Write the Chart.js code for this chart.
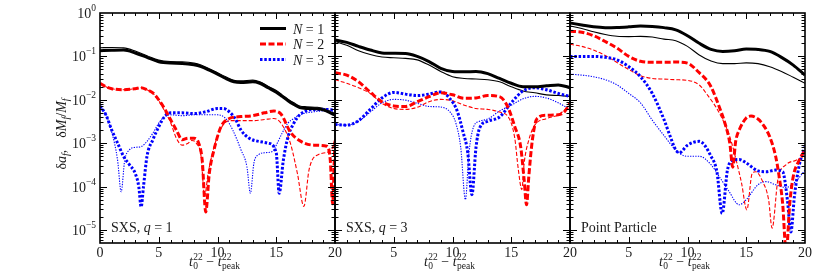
<!DOCTYPE html>
<html><head><meta charset="utf-8">
<script src="https://cdn.jsdelivr.net/npm/chart.js@4/dist/chart.umd.min.js"></script>
<style>
html,body{margin:0;padding:0;background:#fff;}
#wrap{position:relative;width:830px;height:277px;}
canvas{position:absolute;left:0;top:0;}
</style>
</head><body>
<div id="wrap">
<canvas id="c1" width="830" height="277"></canvas>
<canvas id="c2" width="830" height="277"></canvas>
<canvas id="c3" width="830" height="277"></canvas>
</div>
<script>
// ---------------- DATA ----------------
const xTicks = [0, 5, 10, 15, 20];
const yTickExps = [0, -1, -2, -3, -4, -5];
const legendLabels = ['1', '2', '3'];
const panelNotes = [['SXS, ', 'q', ' = 1'], ['SXS, ', 'q', ' = 3'], ['Point Particle', '', '']];

// Panel 1: SXS q=1
const q1_N1_thick = [[0,0.135],[1,0.138],[2,0.14],[3,0.12],[4,0.095],[5,0.075],[6,0.07],[7,0.069],[8,0.064],[8.6,0.058],[9.3,0.048],[10,0.039],[10.7,0.031],[11.4,0.026],[12,0.025],[13,0.026],[13.6,0.024],[14.3,0.019],[15,0.015],[15.5,0.012],[16,0.0095],[16.5,0.0078],[17,0.0066],[17.6,0.0063],[18.5,0.0062],[19.2,0.0056],[19.8,0.0047],[20,0.0045]];
const q1_N1_thin = [[0,0.158],[1,0.16],[2,0.157],[3,0.133],[4,0.104],[5,0.082],[6,0.076],[7,0.075],[8,0.07],[8.6,0.063],[9.3,0.052],[10,0.042],[10.7,0.034],[11.4,0.028],[12,0.0272],[13,0.0283],[13.6,0.026],[14.3,0.0205],[15,0.0163],[15.5,0.013],[16,0.0103],[16.5,0.0085],[17,0.0072],[17.6,0.0069],[18.5,0.0067],[19.2,0.0061],[19.8,0.0051],[20,0.0049]];
const q1_N2_thick = [[0,0.024],[0.5,0.02],[1,0.018],[2,0.017],[3,0.018],[3.5,0.019],[4,0.017],[4.5,0.0145],[5,0.01],[5.5,0.0062],[6,0.0035],[6.5,0.002],[7,0.0012],[7.5,0.0013],[8,0.0013],[8.4,0.001],[8.7,0.0004],[9.0,0.000026],[9.3,0.0002],[9.7,0.0007],[10.3,0.0024],[11,0.0037],[12,0.0041],[13,0.0043],[14,0.005],[14.8,0.0055],[15.4,0.0047],[16.2,0.0018],[17.1,0.0011],[18.2,0.0009],[19.3,0.00085],[19.6,0.0004],[19.8,0.00004],[19.95,0.0005],[20,0.0011]];
const q1_N2_thin = [[0,0.024],[0.5,0.02],[1,0.018],[2,0.017],[3,0.018],[3.5,0.019],[4,0.017],[4.5,0.014],[5,0.0095],[5.5,0.0055],[6,0.003],[6.5,0.0013],[7,0.0009],[7.5,0.001],[7.8,0.00115],[8.2,0.001],[8.6,0.0005],[8.9,0.00006],[9.2,0.0002],[9.7,0.0008],[10.3,0.0022],[11,0.0033],[12,0.0033],[13,0.0033],[14,0.0035],[14.8,0.0037],[15.4,0.0029],[16.2,0.001],[16.8,0.0002],[17.35,0.000035],[17.8,0.00025],[18.6,0.00055],[19.7,0.0007],[20,0.0013]];
const q1_N3_thick = [[0,0.0072],[0.5,0.0045],[1,0.002],[1.5,0.001],[2,0.0005],[2.5,0.00032],[3,0.0002],[3.3,0.0001],[3.5,0.000034],[3.7,0.0001],[4,0.0005],[4.5,0.0012],[5,0.0024],[5.5,0.0041],[6,0.005],[7,0.005],[8,0.0048],[9,0.0053],[10,0.0063],[10.5,0.0063],[11,0.0053],[11.5,0.0037],[12,0.002],[12.7,0.0013],[13.5,0.0011],[14.3,0.001],[15,0.0006],[15.25,0.00007],[15.6,0.0004],[16,0.0014],[16.5,0.0029],[17,0.0045],[17.5,0.0055],[18.2,0.006],[19,0.006],[20,0.0058]];
const q1_N3_thin = [[0,0.0072],[0.5,0.0045],[1,0.0018],[1.5,0.0004],[1.8,0.000076],[2.1,0.0004],[2.5,0.0007],[3,0.0008],[3.5,0.00083],[4,0.0011],[4.5,0.0017],[5,0.0029],[5.5,0.0041],[6,0.0045],[7,0.0043],[8,0.0045],[9,0.0045],[10,0.0045],[10.7,0.0037],[11.3,0.002],[12,0.0007],[12.5,0.00029],[12.8,0.00007],[13.1,0.00035],[13.5,0.00054],[14,0.0006],[14.7,0.00065],[15,0.0009],[15.5,0.0017],[16,0.0029],[16.5,0.0037],[17,0.0045],[18,0.0052],[19,0.0055],[20,0.0055]];

// Panel 2: SXS q=3
const q3_N1_thick = [[0,0.24],[1,0.21],[2,0.17],[3,0.14],[4,0.12],[5,0.118],[6,0.117],[7,0.1],[8,0.076],[9,0.053],[10,0.045],[11,0.044],[12,0.045],[13,0.04],[14,0.031],[15,0.024],[16,0.02],[17,0.02],[18,0.021],[19,0.022],[20,0.019]];
const q3_N1_thin = [[0,0.22],[1,0.18],[2,0.135],[3,0.11],[4,0.097],[5,0.093],[6,0.09],[7,0.083],[8,0.063],[9,0.045],[10,0.034],[11,0.031],[12,0.03],[13,0.029],[14,0.026],[15,0.02],[16,0.016],[17,0.0145],[18,0.013],[19,0.0125],[20,0.012]];
const q3_N2_thick = [[0,0.042],[1,0.037],[2,0.026],[3,0.015],[4,0.009],[5,0.0072],[6,0.007],[7,0.009],[8,0.0118],[9,0.0145],[10,0.013],[11,0.0108],[12,0.011],[13,0.0125],[14,0.0118],[14.7,0.0069],[15.3,0.0024],[15.8,0.00083],[16.1,0.00014],[16.3,0.000038],[16.5,0.00018],[16.8,0.0012],[17.2,0.0037],[18,0.0044],[19,0.0045],[19.5,0.0052],[20,0.0083]];
const q3_N2_thin = [[0,0.029],[1,0.024],[2,0.019],[3,0.014],[4,0.0083],[5,0.0063],[6,0.006],[7,0.0067],[8,0.009],[9,0.0102],[10,0.0095],[11,0.0075],[12,0.0063],[13,0.006],[14,0.0052],[14.8,0.0038],[15.3,0.0013],[15.6,0.00025],[15.9,0.000085],[16.1,0.00035],[16.5,0.0012],[17,0.0026],[18,0.0037],[19,0.0045],[20,0.0075]];
const q3_N3_thick = [[0,0.0027],[1,0.0026],[2,0.0033],[3,0.006],[4,0.011],[5,0.0148],[6,0.0135],[7,0.0125],[8,0.0135],[9,0.0152],[9.8,0.0105],[10.4,0.0055],[10.9,0.0018],[11.3,0.0006],[11.65,0.000065],[12,0.0008],[12.3,0.0022],[13,0.0032],[14,0.004],[15,0.0085],[16,0.016],[17,0.019],[18,0.017],[19,0.014],[20,0.012]];
const q3_N3_thin = [[0,0.0027],[1,0.0026],[2,0.0032],[3,0.0052],[4,0.0085],[5,0.0102],[6,0.0098],[7,0.0083],[8,0.007],[9,0.0068],[9.8,0.0052],[10.3,0.0028],[10.7,0.0008],[11.1,0.00005],[11.4,0.0006],[11.8,0.0024],[12.3,0.0032],[13,0.0036],[14,0.0055],[15,0.0075],[16,0.0105],[17,0.012],[18,0.011],[19,0.0085],[20,0.006]];

// Panel 3: Point Particle
const pp_N1_thick = [[0,0.59],[1,0.53],[2,0.48],[3,0.46],[4,0.465],[5,0.48],[6,0.5],[7,0.49],[8,0.46],[9,0.41],[10,0.3],[11,0.2],[12,0.145],[13,0.13],[14,0.135],[15,0.148],[16,0.145],[17,0.13],[18,0.095],[19,0.063],[20,0.037]];
const pp_N1_thin = [[0,0.5],[1,0.44],[2,0.37],[3,0.32],[4,0.29],[5,0.285],[6,0.29],[7,0.28],[8,0.25],[9,0.23],[10,0.17],[11,0.108],[12,0.078],[13,0.068],[14,0.068],[15,0.071],[16,0.068],[17,0.058],[18,0.045],[19,0.033],[20,0.024]];
const pp_N2_thick = [[0,0.38],[1,0.36],[2,0.3],[3,0.22],[4,0.155],[5,0.1],[6,0.077],[7,0.073],[8,0.073],[9,0.074],[10,0.07],[11,0.042],[11.6,0.029],[12,0.02],[12.7,0.0069],[13.2,0.0028],[13.6,0.001],[13.85,0.00028],[14.1,0.0011],[14.4,0.002],[15,0.0038],[15.4,0.0042],[16,0.0036],[16.5,0.0025],[17,0.0014],[17.5,0.0005],[17.8,0.00017],[18.1,0.00004],[18.4,0.000003],[18.7,0.00004],[19,0.00017],[19.5,0.0004],[20,0.0007]];
const pp_N2_thin = [[0,0.19],[1,0.17],[2,0.14],[3,0.105],[4,0.072],[5,0.05],[6,0.036],[7,0.031],[8,0.03],[9,0.029],[10,0.028],[11,0.022],[11.6,0.014],[12.7,0.005],[13.6,0.0014],[14.2,0.00035],[14.6,0.00012],[15.05,0.000029],[15.5,0.0002],[15.8,0.00022],[16.4,0.00013],[16.9,0.00005],[17.2,0.000011],[17.7,0.00015],[18.4,0.00032],[19.2,0.0004],[20,0.00049]];
const pp_N3_thick = [[0,0.1],[1,0.1],[2,0.1],[3,0.095],[4,0.083],[5,0.058],[6,0.034],[7,0.014],[8,0.0035],[8.5,0.0015],[9,0.0007],[9.3,0.0006],[10,0.0009],[11,0.0011],[12,0.0005],[12.5,0.00022],[12.95,0.000024],[13.4,0.00024],[13.85,0.0004],[14.4,0.00042],[15,0.00035],[16,0.00023],[16.7,0.00022],[17.5,0.00024],[18.1,0.00022],[18.5,0.00005],[18.8,0.000009],[19.1,0.00006],[19.5,0.0003],[20,0.00083]];
const pp_N3_thin = [[0,0.039],[1,0.037],[2,0.034],[3,0.029],[4,0.022],[5,0.014],[6,0.0085],[7,0.0034],[8,0.0015],[9,0.0007],[9.9,0.0005],[11,0.0005],[12,0.00032],[12.7,0.00017],[13.5,0.00008],[14.4,0.000038],[15,0.00005],[16,0.00011],[16.7,0.00013],[17.5,0.00011],[18.4,0.000095],[19.2,0.00013],[20,0.00024]];

// ---------------- STYLE / HELPERS ----------------
const SERIF = '"Liberation Serif", "DejaVu Serif", serif';
const TXT = '#1a1a1a';
function fnt(size, italic) { return (italic ? 'italic ' : '') + size + 'px ' + SERIF; }
function runW(ctx, r) {
  ctx.font = fnt(r.size, r.italic);
  if (r.stack) return Math.max(ctx.measureText(r.sup).width, ctx.measureText(r.sub).width);
  return ctx.measureText(r.text).width;
}
function drawRuns(ctx, runs, x, y, align) {
  const total = runs.reduce((s, r) => s + runW(ctx, r) + (r.gap || 0), 0);
  let cx = align === 'center' ? x - total / 2 : align === 'right' ? x - total : x;
  ctx.textAlign = 'left'; ctx.textBaseline = 'alphabetic'; ctx.fillStyle = TXT;
  for (const r of runs) {
    const w = runW(ctx, r);
    ctx.font = fnt(r.size, r.italic);
    if (r.stack) { ctx.fillText(r.sup, cx, y - r.up); ctx.fillText(r.sub, cx, y + r.down); }
    else ctx.fillText(r.text, cx, y + (r.dy || 0));
    cx += w + (r.gap || 0);
  }
}

const STY = {
  N1: { color: '#000000', dash: [] },
  N2: { color: '#ff0000', dashThick: [6, 2.5], dashThin: [4, 2] },
  N3: { color: '#0000ff', dashThick: [2.5, 1.8], dashThin: [1.3, 1.3] }
};
function ds(pairs, key, thick) {
  const s = STY[key];
  const dash = key === 'N1' ? [] : (thick ? s.dashThick : s.dashThin);
  return {
    data: pairs.map(([x, y]) => ({ x, y })),
    borderColor: s.color, backgroundColor: s.color,
    borderWidth: thick ? 3 : 1.1, borderDash: dash,
    borderCapStyle: 'butt', borderJoinStyle: 'round',
    pointRadius: 0, fill: false, cubicInterpolationMode: 'monotone'
  };
}

const decoPlugin = {
  id: 'deco',
  afterDraw(chart, args, o) {
    const { ctx, chartArea: a, scales: { x, y } } = chart;
    ctx.save();
    // ticks
    ctx.strokeStyle = '#000'; ctx.lineWidth = 1;
    ctx.beginPath();
    for (let t = 1; t < 20; t++) {
      const px = Math.round(x.getPixelForValue(t)) + 0.5;
      const len = t % 5 === 0 ? 6 : 3;
      ctx.moveTo(px, a.bottom); ctx.lineTo(px, a.bottom - len);
      ctx.moveTo(px, a.top); ctx.lineTo(px, a.top + len);
    }
    for (let e = -6; e <= 0; e++) {
      for (let m = 1; m <= 9; m++) {
        const v = m * Math.pow(10, e);
        if (v <= 5e-6 * 1.0001 || v >= 0.9999) continue;
        const py = Math.round(y.getPixelForValue(v)) + 0.5;
        const len = m === 1 ? 7 : 3.5;
        ctx.moveTo(a.left, py); ctx.lineTo(a.left + len, py);
        ctx.moveTo(a.right, py); ctx.lineTo(a.right - len, py);
      }
    }
    ctx.stroke();
    // frame
    ctx.lineWidth = 1.6;
    ctx.strokeRect(a.left, a.top, a.right - a.left, a.bottom - a.top);
    // x tick labels
    for (const t of xTicks) {
      if (t === 0 && !o.firstLabel) continue;
      drawRuns(ctx, [{ text: String(t), size: 14 }], x.getPixelForValue(t), a.bottom + 14, 'center');
    }
    // x title
    const cx = (a.left + a.right) / 2 - 3;
    drawRuns(ctx, [
      { text: 't', size: 14, italic: true, gap: 0.5 },
      { stack: true, sup: '22', sub: '0', size: 9.5, up: 6, down: 3 },
      { text: ' \u2212 ', size: 14 },
      { text: 't', size: 14, italic: true, gap: 0.5 },
      { stack: true, sup: '22', sub: 'peak', size: 9.5, up: 6, down: 3 }
    ], cx, a.bottom + 23, 'center');
    // y labels
    if (o.yLabels) {
      for (const e of yTickExps) {
        const py = y.getPixelForValue(Math.pow(10, e));
        const es = e === 0 ? '0' : '\u2212' + Math.abs(e);
        drawRuns(ctx, [{ text: '10', size: 14 }, { text: es, size: 9.5, dy: -7 }], a.left - 4, py + 5, 'right');
      }
      ctx.save();
      ctx.translate(66, 134);
      ctx.rotate(-Math.PI / 2);
      drawRuns(ctx, [
        { text: '\u03B4', size: 14 }, { text: 'a', size: 14, italic: true },
        { text: 'f', size: 10, italic: true, dy: 3 }, { text: ',', size: 14, gap: 12 },
        { text: '\u03B4', size: 14 }, { text: 'M', size: 14, italic: true },
        { text: 'f', size: 10, italic: true, dy: 3 }, { text: '/', size: 14 },
        { text: 'M', size: 14, italic: true }, { text: 'f', size: 10, italic: true, dy: 3 }
      ], 0, 0, 'center');
      ctx.restore();
    }
    // panel note
    const n = o.note;
    drawRuns(ctx, [{ text: n[0], size: 14 }, { text: n[1], size: 14, italic: true }, { text: n[2], size: 14 }],
      a.left + 11, a.bottom - 11, 'left');
    // legend
    if (o.legend) {
      const dsets = chart.data.datasets;
      for (let i = 0; i < 3; i++) {
        const d = dsets[i];
        const ly = a.top + 15.5 + i * 15.5;
        ctx.save();
        ctx.strokeStyle = d.borderColor; ctx.lineWidth = d.borderWidth;
        ctx.setLineDash(d.borderDash || []); ctx.lineCap = 'butt';
        ctx.beginPath(); ctx.moveTo(a.right - 75, ly); ctx.lineTo(a.right - 49, ly); ctx.stroke();
        ctx.restore();
        drawRuns(ctx, [{ text: 'N', size: 14, italic: true }, { text: ' = ' + legendLabels[i], size: 14 }],
          a.right - 42, ly + 5, 'left');
      }
    }
    ctx.restore();
  }
};

function makePanel(id, left, right, sets, opts) {
  new Chart(document.getElementById(id), {
    type: 'line',
    data: { datasets: sets },
    options: {
      responsive: false, animation: false, devicePixelRatio: 1,
      layout: { padding: { left: left, right: 830 - right, top: 13, bottom: 34 } },
      scales: {
        x: { type: 'linear', min: 0, max: 20, display: false },
        y: { type: 'logarithmic', min: 5e-6, max: 1, display: false }
      },
      plugins: { legend: { display: false }, tooltip: { enabled: false }, deco: opts },
      elements: { point: { radius: 0 } }
    },
    plugins: [decoPlugin]
  });
}

makePanel('c1', 100, 335, [
  ds(q1_N1_thick, 'N1', true), ds(q1_N2_thick, 'N2', true), ds(q1_N3_thick, 'N3', true),
  ds(q1_N1_thin, 'N1', false), ds(q1_N2_thin, 'N2', false), ds(q1_N3_thin, 'N3', false)
], { yLabels: true, firstLabel: true, legend: true, note: panelNotes[0] });
makePanel('c2', 335, 570, [
  ds(q3_N1_thick, 'N1', true), ds(q3_N2_thick, 'N2', true), ds(q3_N3_thick, 'N3', true),
  ds(q3_N1_thin, 'N1', false), ds(q3_N2_thin, 'N2', false), ds(q3_N3_thin, 'N3', false)
], { yLabels: false, firstLabel: false, legend: false, note: panelNotes[1] });
makePanel('c3', 570, 805, [
  ds(pp_N1_thick, 'N1', true), ds(pp_N2_thick, 'N2', true), ds(pp_N3_thick, 'N3', true),
  ds(pp_N1_thin, 'N1', false), ds(pp_N2_thin, 'N2', false), ds(pp_N3_thin, 'N3', false)
], { yLabels: false, firstLabel: false, legend: false, note: panelNotes[2] });
</script>
</body></html>
